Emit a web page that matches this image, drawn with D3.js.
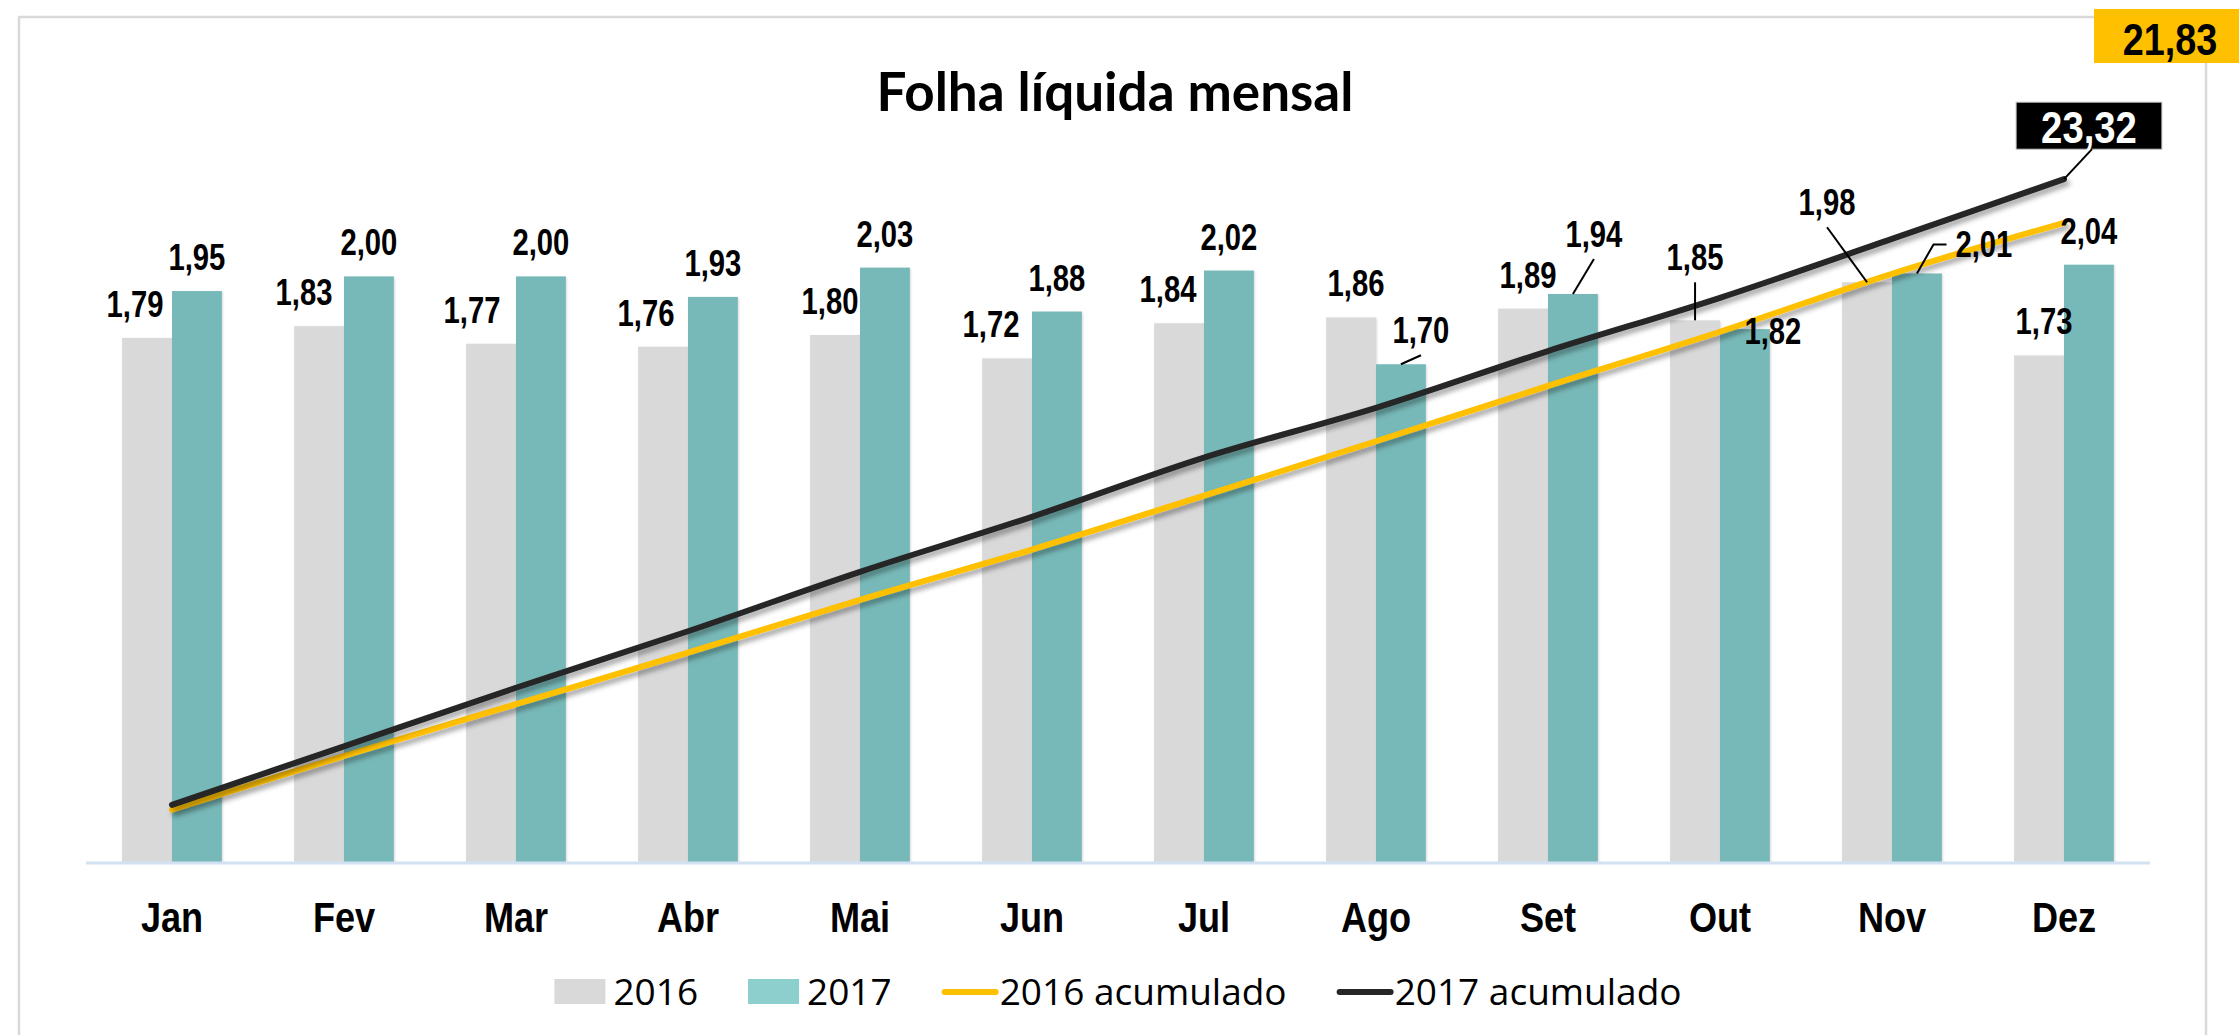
<!DOCTYPE html>
<html>
<head>
<meta charset="utf-8">
<script src="https://cdn.jsdelivr.net/npm/d3@7"></script>
<style>
  body { margin: 0; background: #fff; }
  svg { display: block; }
</style>
</head>
<body>
<svg id="chart"></svg>
<script>
const months = ["Jan", "Fev", "Mar", "Abr", "Mai", "Jun", "Jul", "Ago", "Set", "Out", "Nov", "Dez"];
const folha2016 = [1.79, 1.83, 1.77, 1.76, 1.80, 1.72, 1.84, 1.86, 1.89, 1.85, 1.98, 1.73];
const folha2017 = [1.95, 2.00, 2.00, 1.93, 2.03, 1.88, 2.02, 1.70, 1.94, 1.82, 2.01, 2.04];
const acum2016 = [1.79, 3.62, 5.39, 7.15, 8.95, 10.67, 12.51, 14.37, 16.26, 18.11, 20.09, 21.83];
const acum2017 = [1.95, 3.95, 5.95, 7.88, 9.91, 11.79, 13.81, 15.51, 17.45, 19.27, 21.28, 23.32];
const seriesNames = ["2016", "2017", "2016 acumulado", "2017 acumulado"];

// manual label nudges (like the dragged labels in the original sheet), px
const nudge2016 = [[-12,0],[-15,0],[-19,0],[-17,0],[-5,0],[-16,0],[-11,0],[5,0],[5,0],[0,-29],[-40,-46],[5,0]];
const nudge2017 = [[0,0],[0,0],[0,0],[0,0],[0,0],[0,0],[0,0],[20,0],[21,-26],[28,36],[67,5],[0,0]];
// which labels get a leader line: 0 none, 1 straight, 2 elbow
const leader2016 = [0,0,0,0,0,0,0,0,0,1,1,0];
const leader2017 = [0,0,0,0,0,0,0,1,1,0,2,0];

const W = 2239, H = 1035;
const plot = {left: 86, right: 2150, top: 130, bottom: 862};

const svg = d3.select("#chart").attr("width", W).attr("height", H);

const defs = svg.append("defs");
defs.append("filter").attr("id", "lineShadow")
    .attr("x", "-5%").attr("y", "-5%").attr("width", "110%").attr("height", "120%")
  .append("feDropShadow")
    .attr("dx", 3).attr("dy", 4).attr("stdDeviation", 2.5)
    .attr("flood-color", "#000").attr("flood-opacity", 0.35);
defs.append("filter").attr("id", "barShadow")
  .append("feDropShadow")
    .attr("dx", 1).attr("dy", 1).attr("stdDeviation", 1.2)
    .attr("flood-color", "#000").attr("flood-opacity", 0.15);

// no narrow font installed: squeeze Liberation Sans bold horizontally
const labelFont = "'Liberation Sans', Arial, sans-serif";
function narrowText(parent, x, y, size, squeeze, txt) {
  return parent.append("text")
      .attr("transform", `translate(${x},${y}) scale(${squeeze},1)`)
      .attr("text-anchor", "middle")
      .style("font-family", labelFont)
      .style("font-weight", "bold")
      .style("font-size", size + "px")
      .attr("fill", "#000")
      .text(txt);
}

// frame
svg.append("rect")
    .attr("x", 19).attr("y", 17)
    .attr("width", 2187).attr("height", 1100)
    .attr("fill", "none")
    .attr("stroke", "#d9d9d9")
    .attr("stroke-width", 2.5);

const x = d3.scaleBand()
    .domain(months)
    .range([plot.left, plot.right])
    .paddingInner(0.42)
    .paddingOuter(0.21);

const xSub = d3.scaleBand()
    .domain(["2016", "2017"])
    .range([0, x.bandwidth()]);

const y = d3.scaleLinear().domain([0, 2.5]).range([plot.bottom, plot.top]);
const y2 = d3.scaleLinear().domain([0, 25]).range([plot.bottom, plot.top]);

// title
svg.append("text")
    .attr("x", 1115).attr("y", 111)
    .attr("text-anchor", "middle")
    .style("font-family", "Lato, 'Open Sans', sans-serif")
    .style("font-weight", "bold")
    .style("font-size", "53px")
    .text("Folha líquida mensal");

// bars
const bars = [
  {key: "2016", values: folha2016, color: "#d9d9d9", nudge: nudge2016, leader: leader2016},
  {key: "2017", values: folha2017, color: "#77b9b8", nudge: nudge2017, leader: leader2017}
];

bars.forEach(s => {
  svg.append("g")
    .attr("filter", "url(#barShadow)")
    .selectAll("rect")
    .data(s.values)
    .join("rect")
      .attr("x", (d, i) => x(months[i]) + xSub(s.key))
      .attr("y", d => y(d))
      .attr("width", xSub.bandwidth())
      .attr("height", d => y(0) - y(d))
      .attr("fill", s.color);
});

// x axis line
svg.append("line")
    .attr("x1", plot.left).attr("x2", plot.right)
    .attr("y1", y(0) + 1).attr("y2", y(0) + 1)
    .attr("stroke", "#d3e2f2")
    .attr("stroke-width", 3);

const xAxis = svg.append("g")
    .attr("transform", `translate(0,${y(0)})`)
    .call(d3.axisBottom(x).tickSize(0).tickPadding(40));
xAxis.select(".domain").remove();
xAxis.selectAll("text")
    .attr("fill", "#000")
    .attr("transform", "scale(0.86,1)")
    .style("font-family", labelFont)
    .style("font-weight", "bold")
    .style("font-size", "42px");

// cumulative lines
const line = d3.line()
    .x((d, i) => x(months[i]) + x.bandwidth() / 2)
    .y(d => y2(d))
    .curve(d3.curveCatmullRom.alpha(0.5));

const lines = [
  {key: "2016 acumulado", values: acum2016, color: "#ffc000"},
  {key: "2017 acumulado", values: acum2017, color: "#262626"}
];

lines.forEach(s => {
  svg.append("path")
    .datum(s.values)
    .attr("d", line)
    .attr("fill", "none")
    .attr("stroke", s.color)
    .attr("stroke-width", 6)
    .attr("stroke-linecap", "round")
    .attr("filter", "url(#lineShadow)");
});

// bar data labels
const fmt = v => d3.format(".2f")(v).replace(".", ",");

bars.forEach(s => {
  s.values.forEach((v, i) => {
    const bx = x(months[i]) + xSub(s.key) + xSub.bandwidth() / 2;
    const by = y(v);
    const lx = bx + s.nudge[i][0];
    const ly = by - 21 + s.nudge[i][1];
    const t = narrowText(svg, lx, ly, 37, 0.79, fmt(v));
    if (s.leader[i] === 1) {
      svg.append("line")
          .attr("x1", bx).attr("y1", by)
          .attr("x2", lx).attr("y2", ly + 12)
          .attr("stroke", "#000").attr("stroke-width", 2);
    } else if (s.leader[i] === 2) {
      const left = lx - t.node().getComputedTextLength() * 0.79 / 2;
      const my = ly - 13;
      svg.append("path")
          .attr("d", `M${bx},${by}L${left - 22},${my}L${left - 9},${my}`)
          .attr("fill", "none")
          .attr("stroke", "#000").attr("stroke-width", 2);
    }
  });
});

// end value of 2017 cumulative: black callout
const endX = x(months[11]) + x.bandwidth() / 2;
const endY = y2(acum2017[11]);
const callout = svg.append("g");
const cText = narrowText(callout, endX + 25, endY - 36, 44, 0.87, fmt(acum2017[11]))
    .attr("fill", "#fff");
const cw = cText.node().getComputedTextLength() * 0.87;
callout.insert("rect", "text")
    .attr("x", endX + 25 - cw / 2 - 25).attr("y", endY - 77)
    .attr("width", cw + 50).attr("height", 47)
    .attr("fill", "#000")
    .attr("stroke", "#bfbfbf").attr("stroke-width", 1);
svg.append("line")
    .attr("x1", endX).attr("y1", endY)
    .attr("x2", endX + 28).attr("y2", endY - 30)
    .attr("stroke", "#000").attr("stroke-width", 2);

// end value of 2016 cumulative: yellow box in the corner
svg.append("rect")
    .attr("x", 2094).attr("y", 9)
    .attr("width", W - 2094).attr("height", 54)
    .attr("fill", "#ffc000");
narrowText(svg, 2170, 55, 45, 0.84, fmt(acum2016[11]));

// legend
const legendItems = [
  {name: seriesNames[0], type: "rect", color: "#d9d9d9"},
  {name: seriesNames[1], type: "rect", color: "#8dcfcc"},
  {name: seriesNames[2], type: "line", color: "#ffc000"},
  {name: seriesNames[3], type: "line", color: "#262626"}
];
const legend = svg.append("g");
let lxPos = 0;
legendItems.forEach(d => {
  const g = legend.append("g").attr("transform", `translate(${lxPos},0)`);
  let tx;
  if (d.type === "rect") {
    g.append("rect").attr("x", 0).attr("y", -26).attr("width", 51).attr("height", 25).attr("fill", d.color);
    tx = 59;
  } else {
    g.append("line").attr("x1", 3).attr("x2", 54).attr("y1", -13).attr("y2", -13)
        .attr("stroke", d.color).attr("stroke-width", 6).attr("stroke-linecap", "round");
    tx = 58;
  }
  const t = g.append("text")
      .attr("x", tx).attr("y", 0)
      .style("font-family", "'Open Sans', sans-serif")
      .style("font-size", "37px")
      .attr("fill", "#000")
      .text(d.name);
  lxPos += tx + t.node().getComputedTextLength() + 50;
});
const legendW = lxPos - 50;
legend.attr("transform", `translate(${(plot.left + plot.right) / 2 - legendW / 2},1005)`);
</script>
</body>
</html>
